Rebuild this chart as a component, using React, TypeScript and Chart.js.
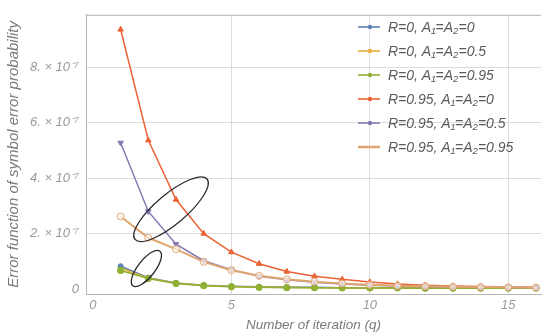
import React, { useEffect, useRef } from "react";
import { Chart, registerables } from "chart.js";

Chart.register(...registerables);

const iterations = [1, 2, 3, 4, 5, 6, 7, 8, 9, 10, 11, 12, 13, 14, 15, 16];
// values in units of 1e-7
const r0a0 = [0.82, 0.41, 0.22, 0.14, 0.1, 0.08, 0.07, 0.06, 0.05, 0.05, 0.04, 0.04, 0.04, 0.04, 0.03, 0.03];
const r0a05 = [0.75, 0.39, 0.21, 0.13, 0.09, 0.07, 0.06, 0.05, 0.05, 0.04, 0.04, 0.04, 0.03, 0.03, 0.03, 0.03];
const r0a095 = [0.67, 0.38, 0.2, 0.12, 0.08, 0.06, 0.05, 0.05, 0.04, 0.04, 0.04, 0.03, 0.03, 0.03, 0.03, 0.03];
const r095a0 = [9.37, 5.37, 3.23, 2.0, 1.33, 0.91, 0.63, 0.46, 0.35, 0.25, 0.18, 0.14, 0.11, 0.09, 0.07, 0.06];
const r095a05 = [5.28, 2.8, 1.62, 1.02, 0.7, 0.46, 0.33, 0.24, 0.18, 0.14, 0.11, 0.09, 0.08, 0.07, 0.06, 0.05];
const r095a095 = [2.62, 1.85, 1.44, 0.98, 0.68, 0.48, 0.35, 0.26, 0.2, 0.15, 0.12, 0.1, 0.08, 0.07, 0.06, 0.05];

const seriesLabels = [
  "R=0, A\u2081=A\u2082=0",
  "R=0, A\u2081=A\u2082=0.5",
  "R=0, A\u2081=A\u2082=0.95",
  "R=0.95, A\u2081=A\u2082=0",
  "R=0.95, A\u2081=A\u2082=0.5",
  "R=0.95, A\u2081=A\u2082=0.95",
];
const seriesValues = [r0a0, r0a05, r0a095, r095a0, r095a05, r095a095];
const seriesColors = ["#5E81B5", "#E6AE3C", "#8FB032", "#EB6235", "#8778B3", "#DFA56E"];
const seriesMarkers = ["circle", "line", "circle", "triangle", "triangle", "circle"];

const xTicks = [0, 5, 10, 15];
const yTicks = [0, 2e-7, 4e-7, 6e-7, 8e-7];

// annotation ellipses: centre in data units, radii in px, rotation in degrees
const ellipses = [
  { x: 2.82, y: 2.88e-7, rx: 47, ry: 15, rot: -40 },
  { x: 1.93, y: 0.74e-7, rx: 22, ry: 8.5, rot: -52 },
];

const FONT = "'Liberation Sans', Arial, sans-serif";

const extrasPlugin = {
  id: "extras",
  afterDatasetsDraw(chart: any) {
    const { ctx, chartArea, scales } = chart;
    ctx.save();
    // top frame line
    ctx.strokeStyle = "#b5b5b5";
    ctx.lineWidth = 1;
    ctx.beginPath();
    ctx.moveTo(chartArea.left, chartArea.top + 0.5);
    ctx.lineTo(chartArea.right, chartArea.top + 0.5);
    ctx.stroke();
    // ellipses
    ctx.strokeStyle = "#2b2b33";
    ctx.lineWidth = 1.3;
    ellipses.forEach((e) => {
      const cx = scales.x.getPixelForValue(e.x);
      const cy = scales.y.getPixelForValue(e.y);
      ctx.beginPath();
      ctx.ellipse(cx, cy, e.rx, e.ry, (e.rot * Math.PI) / 180, 0, Math.PI * 2);
      ctx.stroke();
    });
    // legend
    const lx = 358;
    const ly = 27;
    const step = 24;
    ctx.font = `italic 14px ${FONT}`;
    ctx.textBaseline = "middle";
    ctx.textAlign = "left";
    seriesLabels.forEach((lab, i) => {
      const y = ly + i * step;
      ctx.strokeStyle = seriesColors[i];
      ctx.lineWidth = i === 5 ? 2.5 : 1.6;
      ctx.beginPath();
      ctx.moveTo(lx, y);
      ctx.lineTo(lx + 22, y);
      ctx.stroke();
      ctx.fillStyle = seriesColors[i];
      if (i !== 5) {
        ctx.beginPath();
        ctx.arc(lx + 12, y, 2.2, 0, Math.PI * 2);
        ctx.fill();
      }
      ctx.fillStyle = "#5a5a5a";
      ctx.fillText(lab, lx + 30, y + 1);
    });
    ctx.restore();
  },
};

export default function App() {
  const ref = useRef<HTMLCanvasElement | null>(null);
  useEffect(() => {
    document.body.style.margin = "0";
    const canvas = ref.current;
    if (!canvas) return;
    const datasets = seriesValues.map((vals, i) => ({
      label: seriesLabels[i],
      data: vals.map((v, j) => ({ x: iterations[j], y: v * 1e-7 })),
      borderColor: seriesColors[i],
      backgroundColor: i === 5 ? "rgba(255,255,255,0.6)" : seriesColors[i],
      pointBorderColor: seriesColors[i],
      pointStyle: seriesMarkers[i],
      pointRotation: i === 4 ? 180 : 0,
      pointRadius: i === 5 ? 3.5 : i === 3 || i === 4 ? 3.2 : i === 2 ? 3.2 : 2.6,
      pointBorderWidth: 1,
      borderWidth: i === 5 ? 2 : 1.5,
      tension: 0,
      fill: false,
      order: 6 - i,
    }));
    const chart = new Chart(canvas, {
      type: "line",
      data: { datasets },
      plugins: [extrasPlugin],
      options: {
        animation: false,
        responsive: false,
        maintainAspectRatio: false,
        layout: { padding: { top: 7, right: 0, left: 0, bottom: 0 } },
        plugins: { legend: { display: false }, tooltip: { enabled: false } },
        scales: {
          x: {
            type: "linear",
            min: -0.25,
            max: 16.18,
            afterBuildTicks: (s: any) => {
              s.ticks = xTicks.map((v) => ({ value: v }));
            },
            afterFit: (s: any) => {
              s.height = 42;
            },
            grid: {
              color: (c: any) => (c.tick && c.tick.value === 0 ? "rgba(0,0,0,0)" : "#dcdcdc"),
              drawTicks: false,
              lineWidth: 1,
            },
            border: { color: "#b5b5b5" },
            ticks: {
              color: "#9a9a9a",
              font: { family: FONT, size: 13, style: "italic" },
              padding: 4,
              maxRotation: 0,
            },
            title: {
              display: true,
              text: "Number of iteration (q)",
              color: "#7a7a7a",
              font: { family: FONT, size: 13.5, style: "italic" },
              padding: { top: 0, bottom: 3 },
            },
          },
          y: {
            type: "linear",
            min: -0.18e-7,
            max: 9.9e-7,
            afterBuildTicks: (s: any) => {
              s.ticks = yTicks.map((v) => ({ value: v }));
            },
            afterFit: (s: any) => {
              s.width = 86;
            },
            grid: {
              color: (c: any) => (c.tick && c.tick.value === 0 ? "rgba(0,0,0,0)" : "#dcdcdc"),
              drawTicks: false,
            },
            border: { color: "#b5b5b5" },
            ticks: {
              color: "#9a9a9a",
              font: { family: FONT, size: 13, style: "italic" },
              padding: 7,
              callback: (v: any) => {
                const n = Math.round(Number(v) / 1e-7);
                return n === 0 ? "0" : `${n}. \u00d7 10\u207b\u2077`;
              },
            },
            title: {
              display: true,
              text: "Error function of symbol error probability",
              color: "#7a7a7a",
              font: { family: FONT, size: 15, style: "italic" },
              padding: { top: 5, bottom: 0 },
            },
          },
        },
      } as any,
    });
    return () => chart.destroy();
  }, []);
  return (
    <div style={{ width: 546, height: 336 }}>
      <canvas ref={ref} width={546} height={336} />
    </div>
  );
}
